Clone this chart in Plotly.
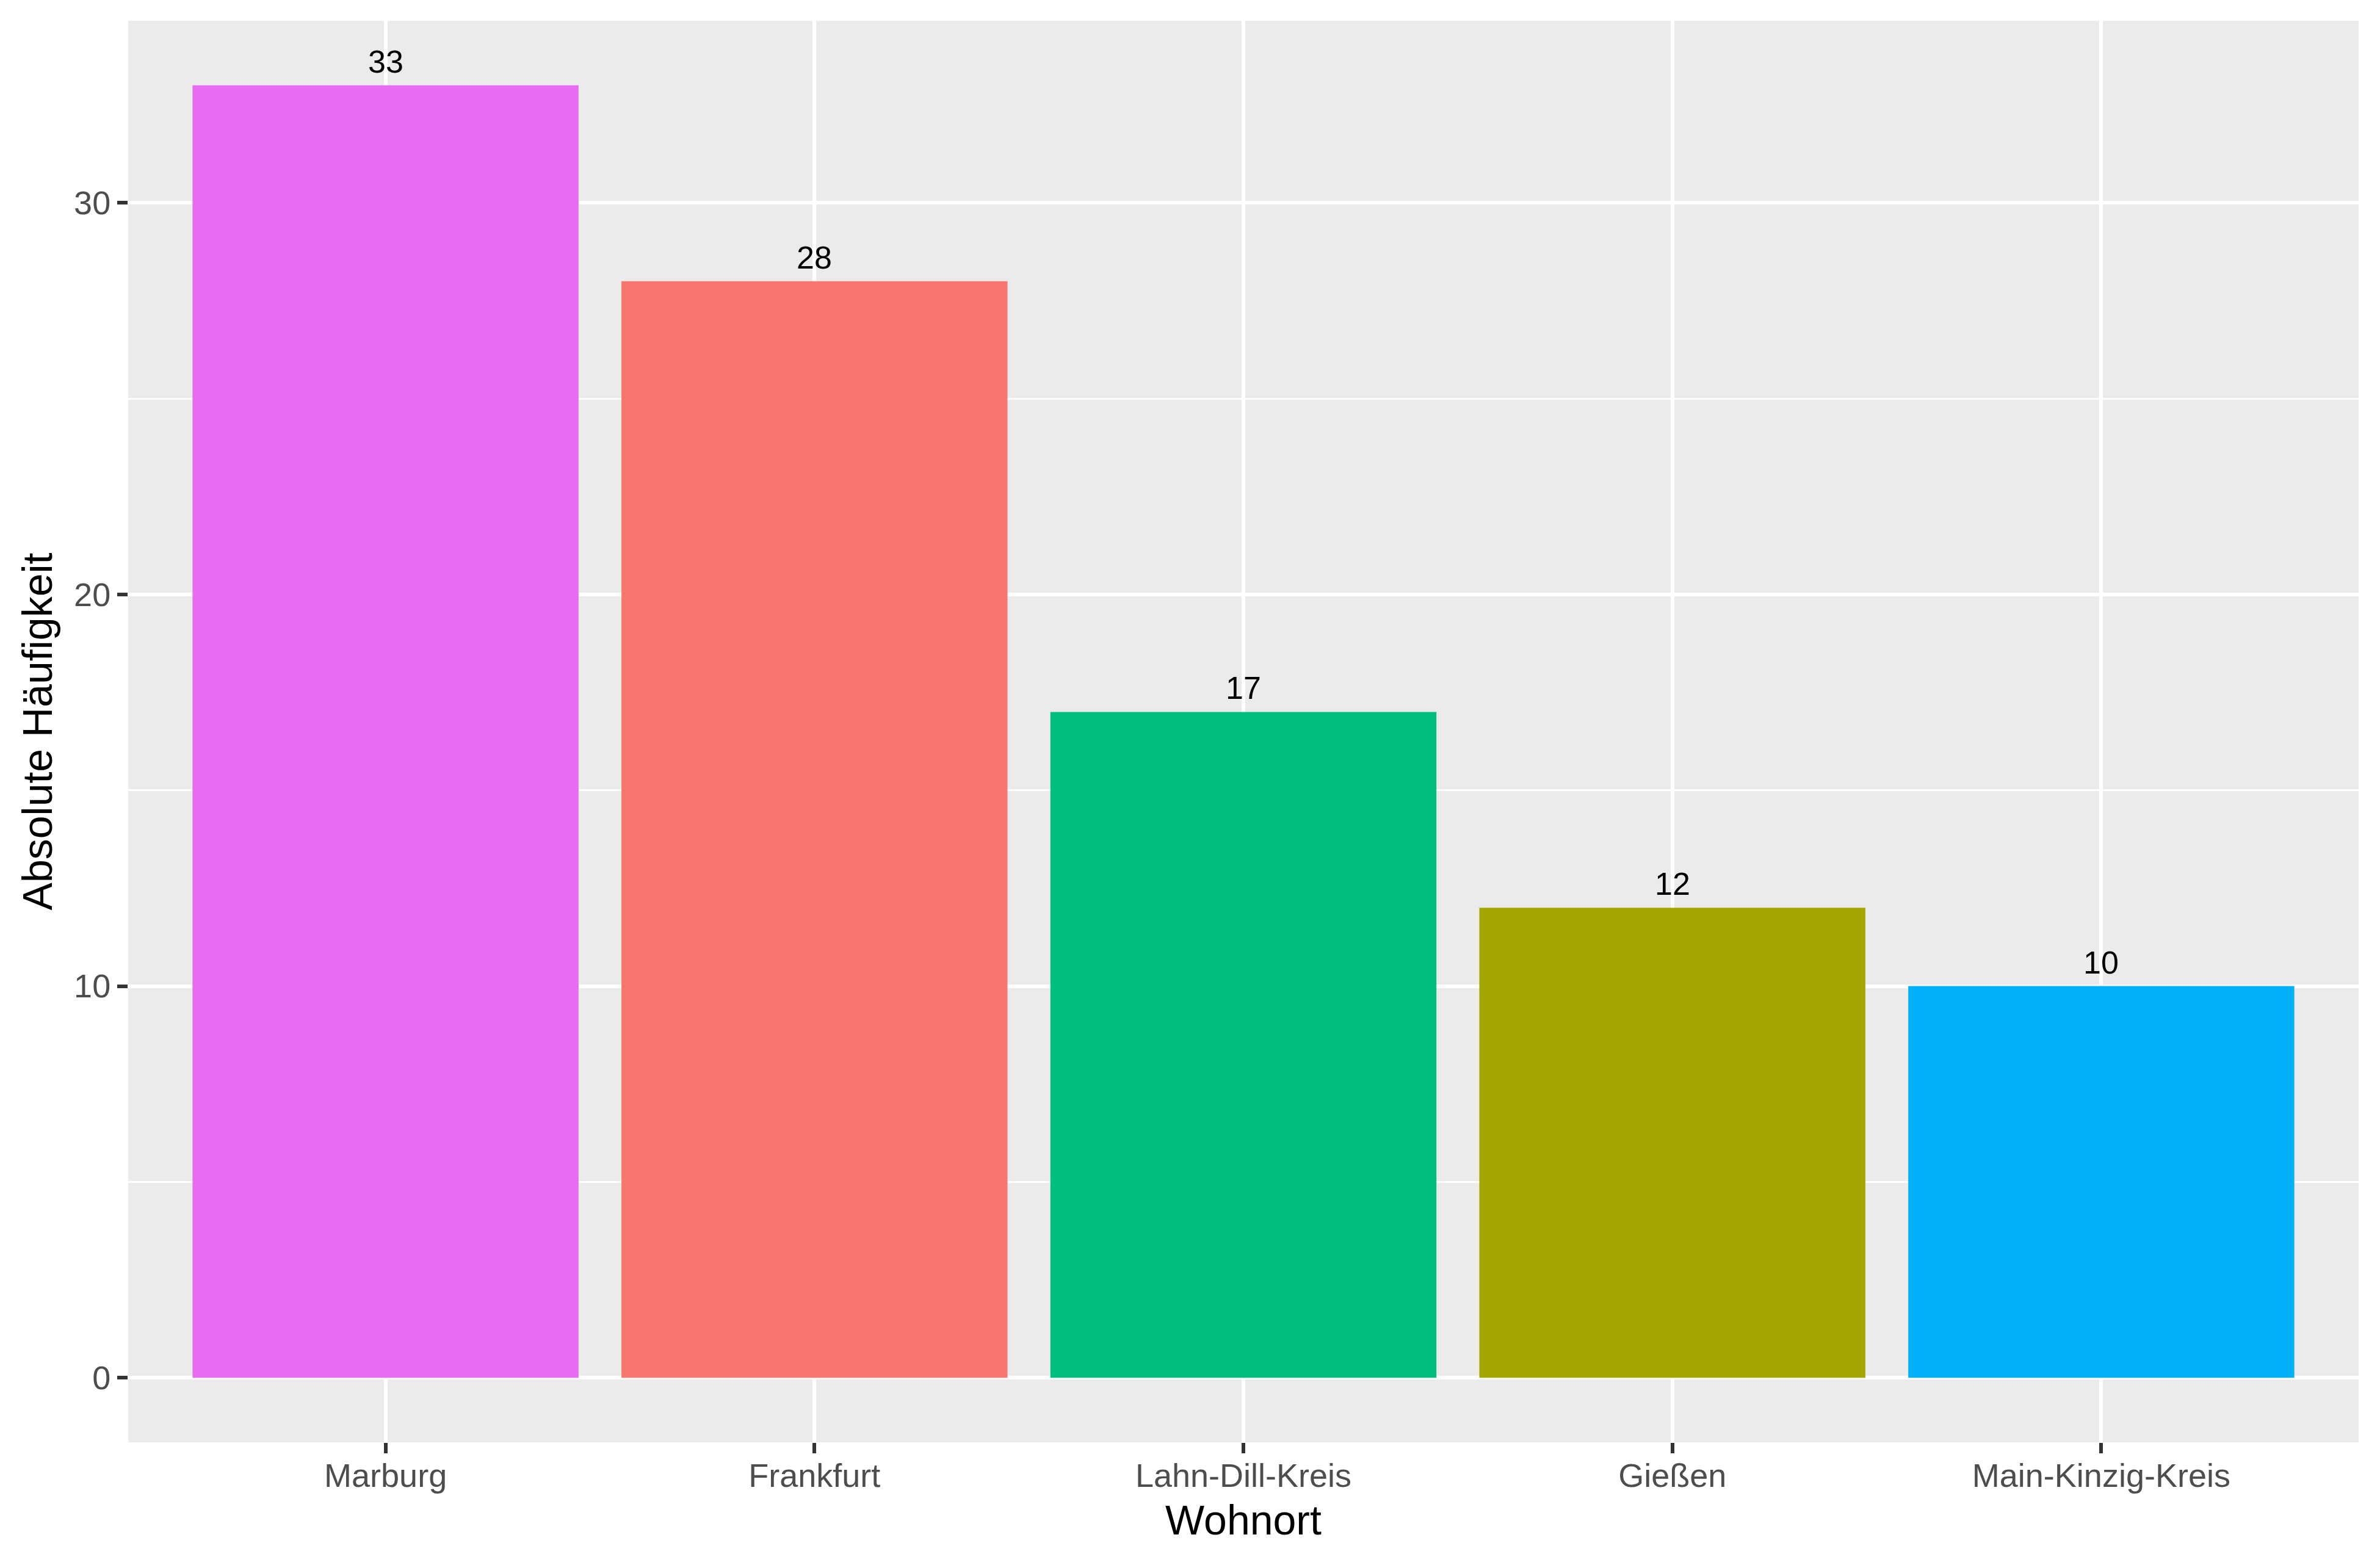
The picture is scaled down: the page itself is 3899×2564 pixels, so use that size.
import plotly.graph_objects as go

categories = ["Marburg", "Frankfurt", "Lahn-Dill-Kreis", "Gießen", "Main-Kinzig-Kreis"]
counts = [33, 28, 17, 12, 10]
colors = ["#E76BF3", "#F8766D", "#00BF7D", "#A3A500", "#00B0F6"]
y_ticks = [0, 10, 20, 30]

FONT = "Liberation Sans, Arial, sans-serif"

fig = go.Figure(
    go.Bar(
        x=categories,
        y=counts,
        marker=dict(color=colors, line=dict(width=0)),
        width=0.9,
        showlegend=False,
    )
)

for cat, val in zip(categories, counts):
    fig.add_annotation(
        x=cat, y=val, text=str(val), showarrow=False,
        xanchor="center", yanchor="bottom", yshift=8,
        font=dict(family=FONT, size=52, color="black"),
    )

fig.update_layout(
    width=3899,
    height=2564,
    margin=dict(l=210, r=35, t=34, b=201),
    paper_bgcolor="white",
    plot_bgcolor="#EBEBEB",
    font=dict(family=FONT),
    bargap=0.1,
)

fig.update_xaxes(
    range=[-0.6, 4.6],
    showgrid=True,
    gridcolor="white",
    gridwidth=6,
    ticks="outside",
    ticklen=17,
    tickwidth=6,
    tickcolor="#333333",
    ticklabelstandoff=-10,
    tickfont=dict(family=FONT, size=54, color="#4D4D4D"),
    title=dict(text="Wohnort", font=dict(family=FONT, size=68, color="black"), standoff=20),
    showline=False,
    zeroline=False,
)

fig.update_yaxes(
    range=[-1.65, 34.65],
    tickvals=y_ticks,
    showgrid=True,
    gridcolor="white",
    gridwidth=6,
    minor=dict(dtick=5, tick0=0, showgrid=True, gridcolor="white", gridwidth=3, ticks=""),
    ticks="outside",
    ticklen=17,
    tickwidth=6,
    tickcolor="#333333",
    tickfont=dict(family=FONT, size=54, color="#4D4D4D"),
    title=dict(text="Absolute Häufigkeit", font=dict(family=FONT, size=68, color="black"), standoff=13),
    showline=False,
    zeroline=False,
)

fig.write_html("out.html")
